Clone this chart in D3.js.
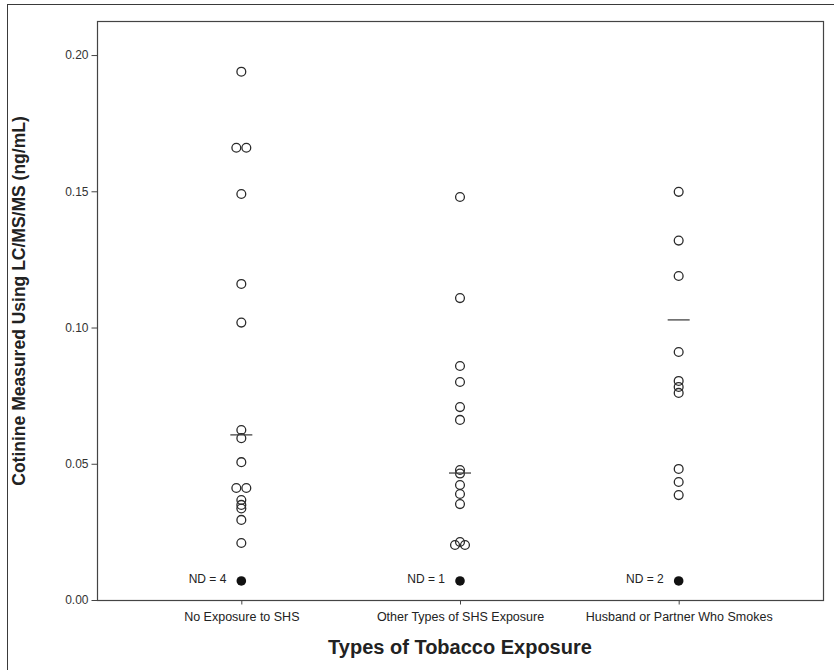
<!DOCTYPE html>
<html>
<head>
<meta charset="utf-8">
<script src="https://cdn.jsdelivr.net/npm/d3@7"></script>
<style>
  html, body { margin: 0; padding: 0; background: #fff; }
  svg { display: block; font-family: "Liberation Sans", Arial, sans-serif; }
</style>
</head>
<body>
<svg id="chart" width="834" height="670"></svg>
<script>
// Exposure groups on the x axis
const categories = ["No Exposure to SHS", "Other Types of SHS Exposure", "Husband or Partner Who Smokes"];

// Detected cotinine values (ng/mL) per group
const noExposure = [0.1939, 0.166, 0.166, 0.149, 0.116, 0.1018, 0.0624, 0.0594, 0.0506,
                    0.0411, 0.0411, 0.0367, 0.0349, 0.0336, 0.0294, 0.0209];
const otherExposure = [0.1479, 0.1108, 0.0859, 0.0800, 0.0708, 0.0661, 0.0477, 0.0464,
                       0.0422, 0.0389, 0.0352, 0.0202, 0.0213, 0.0202];
const partnerSmokes = [0.1498, 0.1319, 0.1189, 0.0910, 0.0804, 0.0782, 0.0760,
                       0.0481, 0.0433, 0.0385];

// Horizontal reference line per group
const centerLine = [0.0606, 0.0466, 0.1028];

// Non-detects: count per group and the level at which they are drawn
const ndCounts = [4, 1, 2];
const ndLevel = 0.007;

const yTicks = [0, 0.05, 0.10, 0.15, 0.20];
const xTitle = "Types of Tobacco Exposure";
const yTitle = "Cotinine Measured Using LC/MS/MS (ng/mL)";

const groups = [noExposure, otherExposure, partnerSmokes];

const svg = d3.select("#chart");
const W = 834, H = 670;
const plot = { left: 97, top: 21, right: 823, bottom: 600 };

// page frame (only its top and left edges fall inside the view)
svg.append("rect")
  .attr("x", 7.5).attr("y", 4.5)
  .attr("width", W + 20).attr("height", H + 20)
  .attr("fill", "none").attr("stroke", "#3a3a3a").attr("stroke-width", 1);

const x = d3.scalePoint()
  .domain(categories)
  .range([plot.left, plot.right])
  .padding(0.66);

const y = d3.scaleLinear()
  .domain([0, 0.2125])
  .range([plot.bottom, plot.top]);

// plot frame
svg.append("rect")
  .attr("x", plot.left + 0.5).attr("y", plot.top + 0.5)
  .attr("width", plot.right - plot.left).attr("height", plot.bottom - plot.top)
  .attr("fill", "none").attr("stroke", "#444").attr("stroke-width", 1.2);

// y axis
const yAxis = svg.append("g")
  .attr("transform", `translate(${plot.left + 0.5},0)`)
  .call(d3.axisLeft(y).tickValues(yTicks).tickFormat(d3.format(".2f")).tickSize(6).tickPadding(3));
yAxis.select(".domain").remove();
yAxis.selectAll(".tick line").attr("stroke", "#444");
yAxis.selectAll(".tick text")
  .attr("font-size", 12).attr("fill", "#333")
  .style("font-family", "'Liberation Sans', Arial, sans-serif");

// x axis
const xAxis = svg.append("g")
  .attr("transform", `translate(0,${plot.bottom + 0.5})`)
  .call(d3.axisBottom(x).tickSize(4).tickPadding(8));
xAxis.select(".domain").remove();
xAxis.selectAll(".tick line").attr("stroke", "#444");
xAxis.selectAll(".tick text")
  .attr("font-size", 12.5).attr("fill", "#222")
  .style("font-family", "'Liberation Sans', Arial, sans-serif");

// spread identical values side by side within a group
function spread(values) {
  const seen = new Map();
  values.forEach(v => seen.set(v, (seen.get(v) || 0) + 1));
  const used = new Map();
  return values.map(v => {
    const n = seen.get(v), i = used.get(v) || 0;
    used.set(v, i + 1);
    return { value: v, offset: (i - (n - 1) / 2) * 10 };
  });
}

const pts = [];
groups.forEach((vals, gi) => {
  spread(vals).forEach(p => pts.push({ cat: categories[gi], value: p.value, offset: p.offset }));
});

// detected values: open circles
svg.append("g").selectAll("circle")
  .data(pts)
  .join("circle")
  .attr("cx", d => x(d.cat) + d.offset)
  .attr("cy", d => y(d.value))
  .attr("r", 4.4)
  .attr("fill", "none")
  .attr("stroke", "#2a2a2a")
  .attr("stroke-width", 1.3);

// reference lines
svg.append("g").selectAll("line")
  .data(centerLine)
  .join("line")
  .attr("x1", (d, i) => x(categories[i]) - 11)
  .attr("x2", (d, i) => x(categories[i]) + 11)
  .attr("y1", d => y(d))
  .attr("y2", d => y(d))
  .attr("stroke", "#444")
  .attr("stroke-width", 1.3);

// non-detects: filled dot with count label
const nd = svg.append("g");
nd.selectAll("circle")
  .data(ndCounts)
  .join("circle")
  .attr("cx", (d, i) => x(categories[i]))
  .attr("cy", y(ndLevel))
  .attr("r", 4.8)
  .attr("fill", "#111");
nd.selectAll("text")
  .data(ndCounts)
  .join("text")
  .attr("x", (d, i) => x(categories[i]) - 15)
  .attr("y", y(ndLevel))
  .attr("dy", "0.2em")
  .attr("text-anchor", "end")
  .attr("font-size", 12)
  .attr("fill", "#222")
  .text(d => `ND = ${d}`);

// axis titles
svg.append("text")
  .attr("x", (plot.left + plot.right) / 2)
  .attr("y", 654)
  .attr("text-anchor", "middle")
  .attr("font-size", 20)
  .attr("font-weight", "bold")
  .attr("fill", "#222")
  .text(xTitle);

svg.append("text")
  .attr("transform", `translate(25,301) rotate(-90)`)
  .attr("text-anchor", "middle")
  .attr("font-size", 17.5)
  .attr("font-weight", "bold")
  .attr("fill", "#222")
  .text(yTitle);
</script>
</body>
</html>
